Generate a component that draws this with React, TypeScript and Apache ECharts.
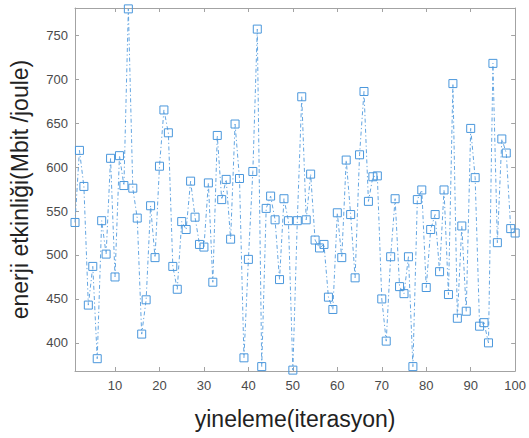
import React, { useEffect, useRef } from "react";
import * as echarts from "echarts";

const iterations: number[] = Array.from({ length: 100 }, (_, i) => i + 1);
const efficiency: number[] = [
  537, 619, 578, 443, 487, 382, 539, 501, 610, 475,
  613, 579, 780, 576, 542, 410, 449, 556, 497, 601,
  665, 639, 487, 461, 538, 529, 584, 543, 512, 509,
  582, 469, 636, 563, 586, 518, 649, 587, 383, 495,
  595, 757, 373, 553, 567, 540, 472, 564, 539, 369,
  539, 680, 540, 592, 517, 508, 512, 452, 438, 548,
  497, 608, 546, 474, 614, 686, 561, 589, 590, 450,
  402, 498, 564, 464, 456, 498, 373, 563, 574, 463,
  529, 546, 481, 574, 455, 695, 428, 533, 436, 644,
  588, 419, 423, 400, 718, 514, 632, 616, 530, 525,
];
const xTitle = "yineleme(iterasyon)";
const yTitle = "enerji etkinliği(Mbit /joule)";

const BLUE = "#4a97dc";
const LINE_BLUE = "#64a6e2";
const AXIS = "#a3a3a3";
const LABEL = "#4a4a4a";
const FONT = "'Liberation Sans', Arial, sans-serif";

export default function App() {
  const ref = useRef<HTMLDivElement>(null);
  useEffect(() => {
    if (!ref.current) return;
    const chart = echarts.init(ref.current, undefined, { renderer: "svg" });
    const yMin = 368;
    const yMax = 781;
    const baseX = {
      type: "value" as const,
      min: 1,
      max: 100,
      splitNumber: 10,
      splitLine: { show: false },
      axisLine: { show: true, lineStyle: { color: AXIS, width: 1 } },
      axisTick: { show: true, inside: true, length: 4, lineStyle: { color: AXIS } },
    };
    const baseY = {
      type: "value" as const,
      min: yMin,
      max: yMax,
      splitNumber: 8,
      splitLine: { show: false },
      axisLine: { show: true, lineStyle: { color: AXIS, width: 1 } },
      axisTick: { show: true, inside: true, length: 4, lineStyle: { color: AXIS } },
    };
    chart.setOption({
      animation: false,
      backgroundColor: "#ffffff",
      grid: { left: 72, right: 10, top: 8, bottom: 67, containLabel: false },
      xAxis: [
        {
          ...baseX,
          position: "bottom",
          name: xTitle,
          nameLocation: "middle",
          nameGap: 36,
          nameTextStyle: { fontFamily: FONT, fontSize: 23, color: "#222" },
          axisLabel: {
            fontFamily: FONT,
            fontSize: 13,
            color: LABEL,
            margin: 8,
            formatter: (v: number) => (v % 10 === 0 ? String(v) : ""),
          },
        },
        { ...baseX, position: "top", axisLabel: { show: false } },
      ],
      yAxis: [
        {
          ...baseY,
          position: "left",
          name: yTitle,
          nameLocation: "middle",
          nameGap: 44,
          nameTextStyle: { fontFamily: FONT, fontSize: 23, color: "#222" },
          axisLabel: {
            fontFamily: FONT,
            fontSize: 13,
            color: LABEL,
            margin: 7,
            formatter: (v: number) => (v % 50 === 0 ? String(v) : ""),
          },
        },
        { ...baseY, position: "right", axisLabel: { show: false } },
      ],
      series: [
        {
          type: "line",
          xAxisIndex: 0,
          yAxisIndex: 0,
          data: iterations.map((x, i) => [x, efficiency[i]]),
          symbol: "rect",
          symbolSize: 8,
          clip: false,
          lineStyle: { color: LINE_BLUE, width: 1, type: [4, 2.5, 1.2, 2.5] },
          itemStyle: { color: "rgba(0,0,0,0)", borderColor: BLUE, borderWidth: 1 },
        },
      ],
    });
    return () => chart.dispose();
  }, []);
  return (
    <div
      ref={ref}
      style={{ position: "fixed", left: 0, top: 0, width: 529, height: 438 }}
    />
  );
}
